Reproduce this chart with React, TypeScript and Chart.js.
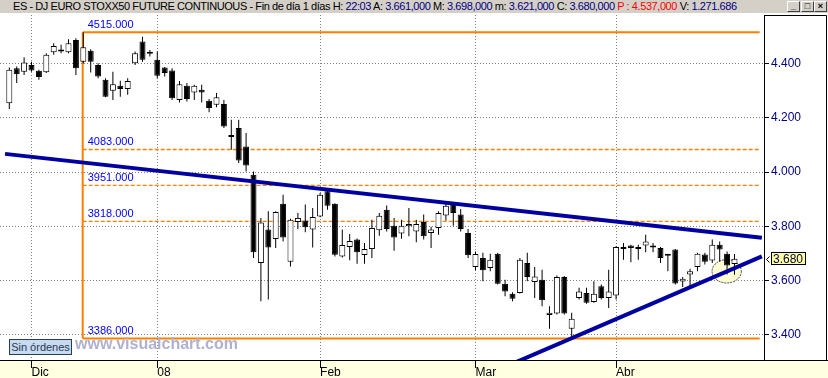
import React, { useEffect, useRef } from 'react';
import { Chart, registerables } from 'chart.js';

Chart.register(...registerables);

// ---- data ----
const openPrices = [
  4254, 4383, 4370, 4395, 4373, 4368, 4442, 4450, 4442, 4487,
  4407, 4447, 4395, 4340, 4300, 4318, 4306, 4401, 4481, 4440,
  4414, 4385, 4374, 4266, 4318, 4293, 4303, 4263, 4248, 4251,
  4133, 4162, 4094, 3990, 3665, 3788, 3753, 3883, 3669, 3816,
  3821, 3788, 3836, 3929, 3883, 3689, 3724, 3751, 3694, 3716,
  3785, 3861, 3802, 3773, 3800, 3781, 3816, 3775, 3794, 3840,
  3882, 3843, 3775, 3650, 3683, 3646, 3699, 3588, 3551, 3554,
  3665, 3595, 3603, 3473, 3478, 3613, 3422, 3536, 3554, 3521,
  3579, 3536, 3545, 3724, 3729, 3718, 3729, 3724, 3720, 3693,
  3714, 3596, 3622, 3650, 3696, 3674, 3732, 3699, 3661,
];
const highPrices = [
  4385, 4389, 4423, 4407, 4377, 4438, 4475, 4469, 4490, 4493,
  4515, 4453, 4401, 4346, 4370, 4337, 4346, 4444, 4499, 4450,
  4444, 4387, 4383, 4336, 4328, 4322, 4322, 4269, 4291, 4266,
  4193, 4193, 4144, 4002, 3831, 3855, 3855, 3916, 3828, 3849,
  3880, 3867, 3923, 3941, 3885, 3788, 3772, 3755, 3738, 3824,
  3849, 3877, 3831, 3824, 3867, 3824, 3843, 3798, 3855, 3892,
  3888, 3864, 3790, 3707, 3702, 3699, 3702, 3603, 3557, 3683,
  3702, 3650, 3640, 3505, 3619, 3617, 3481, 3573, 3573, 3597,
  3585, 3640, 3726, 3738, 3732, 3732, 3769, 3738, 3724, 3694,
  3716, 3613, 3643, 3702, 3702, 3751, 3744, 3707, 3698,
];
const lowPrices = [
  4232, 4328, 4358, 4370, 4340, 4365, 4432, 4438, 4438, 4358,
  4400, 4367, 4346, 4276, 4266, 4278, 4285, 4395, 4407, 4426,
  4346, 4352, 4266, 4256, 4260, 4266, 4256, 4220, 4239, 4162,
  4082, 4033, 4002, 3683, 3524, 3530, 3720, 3744, 3652, 3790,
  3778, 3722, 3833, 3861, 3689, 3685, 3675, 3662, 3662, 3683,
  3765, 3781, 3710, 3754, 3763, 3741, 3751, 3720, 3769, 3821,
  3802, 3781, 3683, 3638, 3597, 3634, 3585, 3542, 3524, 3552,
  3597, 3536, 3505, 3422, 3475, 3475, 3386, 3530, 3514, 3518,
  3530, 3499, 3530, 3677, 3667, 3677, 3704, 3704, 3665, 3634,
  3585, 3576, 3579, 3634, 3659, 3665, 3670, 3622, 3621,
];
const closePrices = [
  4377, 4361, 4404, 4374, 4350, 4432, 4465, 4444, 4475, 4383,
  4460, 4407, 4352, 4278, 4324, 4306, 4336, 4438, 4414, 4436,
  4355, 4365, 4272, 4324, 4269, 4318, 4293, 4236, 4276, 4168,
  4129, 4043, 4024, 3704, 3814, 3722, 3853, 3759, 3824, 3831,
  3796, 3834, 3916, 3876, 3695, 3731, 3746, 3704, 3716, 3794,
  3839, 3790, 3759, 3802, 3808, 3808, 3763, 3788, 3849, 3876,
  3849, 3790, 3693, 3698, 3638, 3677, 3588, 3560, 3533, 3677,
  3613, 3615, 3527, 3481, 3613, 3478, 3459, 3560, 3518, 3551,
  3536, 3560, 3724, 3716, 3720, 3716, 3744, 3722, 3683, 3691,
  3589, 3607, 3634, 3699, 3669, 3732, 3714, 3655, 3680,
];

const monthTickIndex = [3, 20, 42, 63, 82];
const monthTickLabels = ['Dic', '08', 'Feb', 'Mar', 'Abr'];
const priceTicks = [3400, 3600, 3800, 4000, 4200, 4400];
const priceTickLabels = ['3.400', '3.600', '3.800', '4.000', '4.200', '4.400'];

const fibLevels = [4515, 4083, 3951, 3818, 3386];
const fibLabels = ['4515.000', '4083.000', '3951.000', '3818.000', '3386.000'];
const fibSolid = [true, false, false, false, true];
const fibRange = [9.92, 101.4];

const upperTrend = [[-0.58, 4067], [101.7, 3758]];
const lowerTrend = [[66, 3270], [101.7, 3689]];

const ellipseCenter = [96.95, 3634];
const ellipseRadius = [1.98, 43];

const lastClose = 3680;
const lastCloseLabel = '3.680';

const xRange = [-1.257, 101.99];
const yRange = [3307, 4579];

const headerParts: [string, string][] = [
  ['ES - DJ EURO STOXX50 FUTURE CONTINUOUS - Fin de día 1 días H: ', '#000000'],
  ['22:03', '#000080'],
  [' A: ', '#000000'],
  ['3.661,000', '#000080'],
  [' M: ', '#000000'],
  ['3.698,000', '#000080'],
  [' m: ', '#000000'],
  ['3.621,000', '#000080'],
  [' C: ', '#000000'],
  ['3.680,000', '#000080'],
  [' P : 4.537,000', '#FF0000'],
  [' V: ', '#000000'],
  ['1.271.686', '#000080'],
];

const FONT = "'Liberation Sans', Arial, sans-serif";
const ORANGE = '#FF8000';
const TREND = '#0000A0';

const decorPlugin = {
  id: 'decor',
  beforeDraw(chart: any) {
    const { ctx, width, height, chartArea } = chart;
    ctx.save();
    ctx.fillStyle = '#ffffff';
    ctx.fillRect(0, 0, width, height);
    ctx.fillStyle = '#FFFFE1';
    ctx.fillRect(0, chartArea.bottom, width, height - chartArea.bottom);
    ctx.restore();
  },
  beforeDatasetsDraw(chart: any) {
    const { ctx, scales } = chart;
    const xs = scales.x;
    const ys = scales.y;
    const cx = xs.getPixelForValue(ellipseCenter[0]);
    const cy = ys.getPixelForValue(ellipseCenter[1]);
    const rx = Math.abs(xs.getPixelForValue(ellipseCenter[0] + ellipseRadius[0]) - cx);
    const ry = Math.abs(ys.getPixelForValue(ellipseCenter[1] + ellipseRadius[1]) - cy);
    ctx.save();
    ctx.beginPath();
    ctx.ellipse(cx, cy, rx, ry, 0, 0, Math.PI * 2);
    ctx.fillStyle = '#FFFFD6';
    ctx.fill();
    ctx.setLineDash([2, 1]);
    ctx.strokeStyle = '#404040';
    ctx.lineWidth = 1;
    ctx.stroke();
    ctx.restore();
  },
  afterDatasetsDraw(chart: any) {
    const { ctx, scales } = chart;
    const xs = scales.x;
    const ys = scales.y;
    const x0 = xs.getPixelForValue(fibRange[0]) + 5;
    ctx.save();
    ctx.font = `11px ${FONT}`;
    ctx.fillStyle = '#0000FF';
    ctx.textBaseline = 'alphabetic';
    ctx.textAlign = 'left';
    fibLevels.forEach((lv, i) => {
      const y = ys.getPixelForValue(lv);
      ctx.fillText(fibLabels[i], x0, y - 4.5);
    });
    ctx.restore();
  },
  afterDraw(chart: any) {
    const { ctx, width, chartArea, scales } = chart;
    const ys = scales.y;
    ctx.save();
    ctx.strokeStyle = '#000000';
    ctx.lineWidth = 1;
    ctx.beginPath();
    ctx.moveTo(0, chartArea.bottom + 0.5);
    ctx.lineTo(width, chartArea.bottom + 0.5);
    ctx.moveTo(chartArea.right + 0.5, chartArea.top + 0.5);
    ctx.lineTo(width - 1.5, chartArea.top + 0.5);
    ctx.lineTo(width - 1.5, chartArea.bottom + 0.5);
    ctx.stroke();
    // last price tag
    const py = Math.round(ys.getPixelForValue(lastClose));
    ctx.beginPath();
    ctx.moveTo(769.5, py - 2.5);
    ctx.lineTo(766.5, py + 0.5);
    ctx.lineTo(769.5, py + 3.5);
    ctx.stroke();
    ctx.fillStyle = '#FFFFA8';
    ctx.fillRect(771, py - 7, 35, 13);
    ctx.strokeRect(771.5, py - 6.5, 34, 12);
    ctx.fillStyle = '#000040';
    ctx.font = `12px ${FONT}`;
    ctx.textBaseline = 'middle';
    ctx.textAlign = 'left';
    ctx.fillText(lastCloseLabel, 773, py + 0.5);
    ctx.restore();
  },
};

export default function App() {
  const canvasRef = useRef<HTMLCanvasElement | null>(null);

  useEffect(() => {
    const canvas = canvasRef.current;
    if (!canvas) return;

    const idx = openPrices.map((_, i) => i);
    const wickData = idx.map((i) => ({ x: i, y: [lowPrices[i], highPrices[i]] }));
    const bodyData = idx.map((i) => ({
      x: i,
      y: [Math.min(openPrices[i], closePrices[i]), Math.max(openPrices[i], closePrices[i])],
    }));
    const bodyColors = idx.map((i) => (closePrices[i] >= openPrices[i] ? '#FFFFFF' : '#000000'));

    const fibDatasets: any[] = fibLevels.map((lv, i) => ({
      type: 'line',
      data: [
        { x: fibRange[0], y: lv },
        { x: fibRange[1], y: lv },
      ],
      borderColor: ORANGE,
      borderWidth: fibSolid[i] ? 2 : 1.4,
      borderDash: fibSolid[i] ? [] : [4, 2],
      pointRadius: 0,
      fill: false,
      order: 10,
      clip: 0,
    }));
    fibDatasets.push({
      type: 'line',
      data: [
        { x: fibRange[0], y: fibLevels[0] },
        { x: fibRange[0], y: fibLevels[fibLevels.length - 1] },
      ],
      borderColor: ORANGE,
      borderWidth: 2,
      pointRadius: 0,
      fill: false,
      order: 10,
      clip: 0,
    });

    const trendDatasets = [upperTrend, lowerTrend].map((pts) => ({
      type: 'line',
      data: pts.map((p) => ({ x: p[0], y: p[1] })),
      borderColor: TREND,
      borderWidth: 4,
      pointRadius: 0,
      fill: false,
      order: 1,
      clip: 0,
    }));

    const chart = new Chart(canvas, {
      type: 'bar',
      data: {
        datasets: [
          ...fibDatasets,
          {
            type: 'bar',
            data: wickData,
            backgroundColor: '#000000',
            barThickness: 1,
            grouped: false,
            inflateAmount: 0,
            order: 5,
          },
          {
            type: 'bar',
            data: bodyData,
            backgroundColor: bodyColors,
            borderColor: '#000000',
            borderWidth: 1,
            borderSkipped: false,
            barThickness: 6,
            minBarLength: 2,
            grouped: false,
            inflateAmount: 0,
            order: 4,
          },
          ...trendDatasets,
        ] as any,
      },
      options: {
        animation: false,
        responsive: false,
        maintainAspectRatio: false,
        events: [],
        layout: { padding: { top: 15, left: 0, right: 0, bottom: 0 } },
        plugins: { legend: { display: false }, tooltip: { enabled: false } },
        scales: {
          x: {
            type: 'linear',
            position: 'bottom',
            min: xRange[0],
            max: xRange[1],
            offset: false,
            afterBuildTicks: (s: any) => {
              s.ticks = monthTickIndex.map((v) => ({ value: v }));
            },
            afterFit: (s: any) => {
              s.height = 18;
            },
            ticks: {
              autoSkip: false,
              maxRotation: 0,
              minRotation: 0,
              align: 'start',
              padding: -1,
              color: '#000000',
              font: { family: FONT, size: 12, lineHeight: 1 },
              callback: (_v: any, i: number) => monthTickLabels[i],
            },
            grid: {
              offset: false,
              color: '#808080',
              lineWidth: 1,
              tickLength: 8,
              tickColor: '#000000',
            },
            border: { display: true, color: '#000000', width: 1, dash: [1, 2] },
          },
          y: {
            type: 'linear',
            position: 'right',
            min: yRange[0],
            max: yRange[1],
            beginAtZero: false,
            afterBuildTicks: (s: any) => {
              s.ticks = priceTicks.map((v) => ({ value: v }));
            },
            afterFit: (s: any) => {
              s.width = 64;
            },
            ticks: {
              autoSkip: false,
              padding: 2,
              color: '#000080',
              font: { family: FONT, size: 12 },
              callback: (_v: any, i: number) => priceTickLabels[i],
            },
            grid: {
              color: '#808080',
              lineWidth: 1,
              tickLength: 5,
              tickColor: '#000040',
            },
            border: { display: true, color: '#000000', width: 1, dash: [1, 2] },
          },
        },
      } as any,
      plugins: [decorPlugin],
    });

    return () => chart.destroy();
  }, []);

  const btn: React.CSSProperties = {
    position: 'absolute',
    top: 1,
    width: 11,
    height: 9,
    background: '#D4D0C8',
    borderStyle: 'solid',
    borderWidth: 1,
    borderColor: '#FFFFFF #404040 #404040 #FFFFFF',
    fontSize: 9,
    lineHeight: '9px',
    textAlign: 'center',
    fontFamily: FONT,
    fontWeight: 'bold',
    color: '#000',
    overflow: 'hidden',
  };

  return (
    <div style={{ position: 'absolute', left: 0, top: 0, width: 828, height: 378, overflow: 'hidden' }}>
      <canvas ref={canvasRef} width={828} height={378} style={{ position: 'absolute', left: 0, top: 0, width: 828, height: 378 }} />
      <div
        style={{
          position: 'absolute',
          left: 0,
          top: 0,
          width: 828,
          height: 13,
          background: '#D4D0C8',
          fontFamily: FONT,
          fontSize: 11,
          lineHeight: '13px',
          whiteSpace: 'nowrap',
        }}
      >
        <span style={{ position: 'absolute', left: 13, top: 0, letterSpacing: '-0.42px' }}>
          {headerParts.map(([t, c], i) => (
            <span key={i} style={{ color: c, whiteSpace: 'pre' }}>
              {t}
            </span>
          ))}
        </span>
        <div style={{ ...btn, left: 787 }}>_</div>
        <div style={{ ...btn, left: 801 }}>□</div>
        <div style={{ ...btn, left: 814 }}>×</div>
      </div>
      <div
        style={{
          position: 'absolute',
          left: 9,
          top: 339,
          width: 61,
          height: 14,
          background: '#C9D9EF',
          border: '1px solid #23404F',
          color: '#1E3C55',
          fontFamily: FONT,
          fontSize: 11,
          lineHeight: '14px',
          textAlign: 'center',
          whiteSpace: 'nowrap',
        }}
      >
        Sin órdenes
      </div>
      <div
        style={{
          position: 'absolute',
          left: 75,
          top: 336,
          fontFamily: FONT,
          fontSize: 16,
          fontWeight: 'bold',
          lineHeight: '16px',
          color: '#B0B0D0',
          whiteSpace: 'nowrap',
        }}
      >
        www.visualchart.com
      </div>
    </div>
  );
}
